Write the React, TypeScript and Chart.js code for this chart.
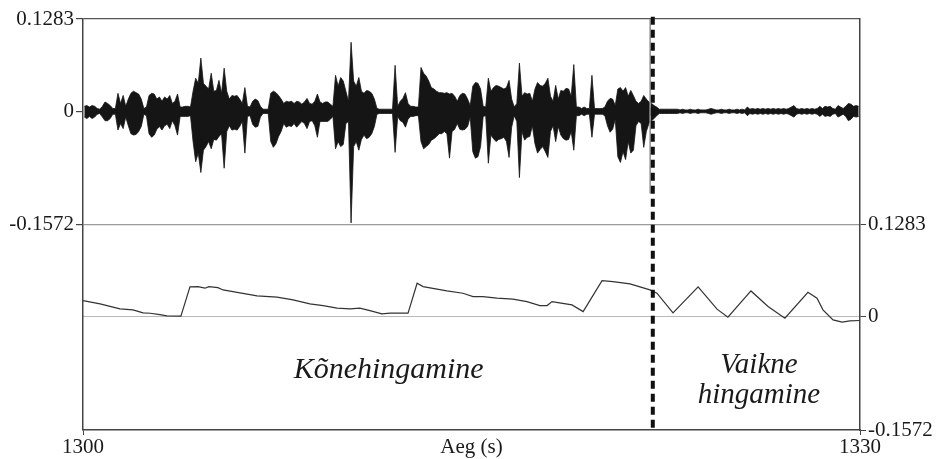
import React, { useEffect, useRef } from "react";
import { Chart, registerables } from "chart.js";

Chart.register(...registerables);

// ---- axes ----
const X_MIN = 1300;
const X_MAX = 1330;
const X_TICKS = [1300, 1330];
const X_TITLE = "Aeg (s)";
const WAVE_TICKS = [0.1283, 0, -0.1572]; // upper panel (left axis)
const BREATH_TICKS = [0.1283, 0, -0.1572]; // lower panel (right axis)

// ---- speech waveform: envelope per 0.1 s bin, starting at 1300 s ----
const WAVE_START = 1300;
const WAVE_STEP = 0.1;
const WAVE_MAX = [
  0.007, 0.008, 0.006, 0.008, 0.007, 0.004, 0.003, 0.007, 0.013, 0.011,
  0.008, 0.004, 0.004, 0.025, 0.011, 0.022, 0.007, 0.017, 0.025, 0.028,
  0.026, 0.024, 0.017, 0.004, 0.006, 0.022, 0.025, 0.024, 0.017, 0.020,
  0.014, 0.020, 0.017, 0.022, 0.011, 0.014, 0.024, 0.006, 0.006, 0.007,
  0.007, 0.006, 0.028, 0.046, 0.039, 0.074, 0.039, 0.035, 0.031, 0.053,
  0.028, 0.029, 0.043, 0.025, 0.060, 0.028, 0.017, 0.022, 0.021, 0.022,
  0.017, 0.011, 0.033, 0.007, 0.006, 0.014, 0.017, 0.015, 0.007, 0.003,
  0.003, 0.003, 0.025, 0.028, 0.026, 0.022, 0.017, 0.011, 0.014, 0.013,
  0.014, 0.011, 0.014, 0.013, 0.010, 0.013, 0.018, 0.011, 0.010, 0.014,
  0.024, 0.013, 0.011, 0.013, 0.013, 0.010, 0.007, 0.050, 0.035, 0.047,
  0.042, 0.028, 0.014, 0.096, 0.042, 0.035, 0.047, 0.028, 0.025, 0.029,
  0.028, 0.025, 0.017, 0.004, 0.003, 0.003, 0.003, 0.003, 0.003, 0.003,
  0.064, 0.007, 0.014, 0.018, 0.026, 0.011, 0.007, 0.007, 0.006, 0.006,
  0.061, 0.053, 0.049, 0.042, 0.033, 0.031, 0.028, 0.026, 0.026, 0.025,
  0.026, 0.024, 0.025, 0.021, 0.014, 0.022, 0.025, 0.024, 0.017, 0.008,
  0.035, 0.040, 0.039, 0.031, 0.007, 0.006, 0.046, 0.028, 0.033, 0.036,
  0.035, 0.033, 0.031, 0.033, 0.043, 0.017, 0.006, 0.011, 0.067, 0.021,
  0.026, 0.024, 0.025, 0.014, 0.031, 0.040, 0.036, 0.035, 0.039, 0.046,
  0.021, 0.014, 0.036, 0.017, 0.029, 0.028, 0.032, 0.031, 0.021, 0.065,
  0.006, 0.006, 0.004, 0.006, 0.004, 0.004, 0.050, 0.004, 0.004, 0.004,
  0.004, 0.006, 0.014, 0.018, 0.017, 0.008, 0.031, 0.033, 0.028, 0.033,
  0.021, 0.029, 0.022, 0.014, 0.011, 0.014, 0.022, 0.017, 0.013, 0.011,
  0.008, 0.006, 0.003, 0.003, 0.003, 0.003, 0.003, 0.003, 0.003, 0.003,
  0.002, 0.003, 0.002, 0.002, 0.003, 0.002, 0.002, 0.003, 0.002, 0.002,
  0.002, 0.003, 0.004, 0.003, 0.002, 0.002, 0.003, 0.002, 0.002, 0.003,
  0.002, 0.002, 0.003, 0.002, 0.003, 0.002, 0.006, 0.003, 0.004, 0.003,
  0.004, 0.003, 0.004, 0.003, 0.004, 0.003, 0.004, 0.003, 0.004, 0.003,
  0.004, 0.003, 0.004, 0.006, 0.008, 0.004, 0.003, 0.004, 0.003, 0.004,
  0.003, 0.004, 0.003, 0.004, 0.007, 0.004, 0.007, 0.006, 0.007, 0.004,
  0.003, 0.008, 0.006, 0.004, 0.007, 0.011, 0.010, 0.007, 0.008, 0.007,
];
const WAVE_MIN = [
  -0.008, -0.010, -0.007, -0.010, -0.008, -0.004, -0.003, -0.008, -0.013, -0.013,
  -0.010, -0.004, -0.004, -0.026, -0.017, -0.024, -0.008, -0.020, -0.031, -0.033,
  -0.032, -0.028, -0.021, -0.004, -0.006, -0.031, -0.036, -0.033, -0.025, -0.021,
  -0.026, -0.020, -0.018, -0.024, -0.013, -0.020, -0.033, -0.007, -0.007, -0.007,
  -0.007, -0.006, -0.042, -0.070, -0.058, -0.085, -0.054, -0.049, -0.042, -0.052,
  -0.039, -0.040, -0.035, -0.031, -0.079, -0.028, -0.020, -0.026, -0.025, -0.026,
  -0.021, -0.014, -0.058, -0.007, -0.006, -0.018, -0.022, -0.021, -0.008, -0.003,
  -0.003, -0.003, -0.042, -0.050, -0.045, -0.035, -0.028, -0.017, -0.022, -0.020,
  -0.021, -0.017, -0.022, -0.018, -0.014, -0.017, -0.024, -0.014, -0.013, -0.020,
  -0.036, -0.014, -0.014, -0.014, -0.014, -0.011, -0.007, -0.052, -0.042, -0.049,
  -0.046, -0.017, -0.014, -0.155, -0.049, -0.042, -0.054, -0.039, -0.033, -0.038,
  -0.036, -0.031, -0.021, -0.004, -0.003, -0.003, -0.003, -0.003, -0.003, -0.003,
  -0.057, -0.007, -0.013, -0.015, -0.022, -0.011, -0.007, -0.007, -0.006, -0.006,
  -0.042, -0.052, -0.049, -0.046, -0.040, -0.038, -0.035, -0.031, -0.031, -0.028,
  -0.031, -0.065, -0.028, -0.025, -0.017, -0.025, -0.026, -0.025, -0.021, -0.008,
  -0.056, -0.065, -0.063, -0.049, -0.007, -0.006, -0.072, -0.033, -0.038, -0.042,
  -0.039, -0.038, -0.036, -0.042, -0.064, -0.022, -0.006, -0.014, -0.092, -0.028,
  -0.040, -0.036, -0.035, -0.020, -0.045, -0.058, -0.053, -0.049, -0.056, -0.064,
  -0.028, -0.020, -0.042, -0.021, -0.033, -0.038, -0.040, -0.039, -0.028, -0.054,
  -0.006, -0.006, -0.004, -0.006, -0.004, -0.004, -0.036, -0.004, -0.004, -0.004,
  -0.004, -0.006, -0.020, -0.029, -0.025, -0.011, -0.063, -0.071, -0.056, -0.067,
  -0.042, -0.058, -0.054, -0.020, -0.014, -0.017, -0.050, -0.028, -0.017, -0.013,
  -0.010, -0.006, -0.003, -0.003, -0.003, -0.003, -0.003, -0.003, -0.003, -0.003,
  -0.002, -0.003, -0.002, -0.002, -0.003, -0.002, -0.002, -0.003, -0.002, -0.002,
  -0.002, -0.003, -0.004, -0.003, -0.002, -0.002, -0.003, -0.002, -0.002, -0.003,
  -0.002, -0.002, -0.003, -0.002, -0.003, -0.002, -0.006, -0.003, -0.004, -0.003,
  -0.004, -0.003, -0.004, -0.003, -0.004, -0.003, -0.004, -0.003, -0.004, -0.003,
  -0.004, -0.003, -0.004, -0.006, -0.008, -0.004, -0.003, -0.004, -0.003, -0.004,
  -0.003, -0.004, -0.003, -0.004, -0.007, -0.004, -0.007, -0.006, -0.007, -0.004,
  -0.003, -0.008, -0.006, -0.004, -0.007, -0.013, -0.011, -0.007, -0.008, -0.007,
];

// ---- breathing signal (lower panel) ----
const BREATH_T = [
  1300.0, 1300.66, 1301.43, 1301.93, 1302.32, 1302.59, 1302.97, 1303.24, 1303.78,
  1304.13, 1304.44, 1304.71, 1304.86, 1305.21, 1305.41, 1306.06, 1306.72, 1307.49,
  1308.11, 1308.76, 1309.27, 1309.81, 1310.31, 1310.69, 1311.08, 1311.54, 1311.85,
  1312.55, 1312.9, 1313.13, 1313.67, 1314.05, 1314.67, 1315.06, 1315.44, 1315.98,
  1316.6, 1317.14, 1317.64, 1317.92, 1318.11, 1318.34, 1318.88, 1319.31, 1320.04,
  1320.46, 1321.12, 1321.89, 1322.16, 1322.78, 1323.75, 1324.48, 1324.9, 1325.79,
  1326.45, 1327.1, 1327.99, 1328.34, 1328.57, 1328.96, 1329.31, 1329.61, 1330.0,
];
const BREATH_V = [
  0.0226, 0.018, 0.011, 0.0097, 0.0055, 0.005, 0.0032, 0.0014, 0.001,
  0.0416, 0.042, 0.0398, 0.042, 0.0406, 0.0374, 0.0333, 0.0291, 0.0273,
  0.0236, 0.018, 0.0157, 0.0121, 0.0111, 0.0121, 0.0087, 0.0042, 0.0051,
  0.0051, 0.0467, 0.042, 0.0384, 0.036, 0.0328, 0.0281, 0.0281, 0.0259,
  0.0245, 0.0212, 0.0157, 0.0157, 0.0212, 0.0198, 0.0166, 0.0073, 0.0503,
  0.0489, 0.0457, 0.0374, 0.0328, 0.0055, 0.0416, 0.0107, -0.0004, 0.036,
  0.0143, -0.0018, 0.0342, 0.0259, 0.0097, -0.0042, -0.0073, -0.0055, -0.0051,
];

// ---- annotations ----
const BOUNDARY_T = 1322.0; // dashed boundary
const MARKER_T = 1321.9; // thin grey marker in the waveform
const MARKER_TOP = 0.1283;
const MARKER_BOTTOM = -0.114;
const TEXT_LABELS = ["Kõnehingamine", "Vaikne", "hingamine"];
const TEXT_T = [1311.8, 1326.1, 1326.1];
const TEXT_V = [-0.0845, -0.0776, -0.119];
const TEXT_SIZE = [30, 29, 29];

const FONT = "'Liberation Serif', 'Times New Roman', serif";

export default function App() {
  const ref = useRef<HTMLCanvasElement | null>(null);

  useEffect(() => {
    const canvas = ref.current;
    if (!canvas) return;

    const waveSpan = WAVE_TICKS[0] - WAVE_TICKS[2];
    const y1Min = WAVE_TICKS[2] - waveSpan;
    const y1Max = WAVE_TICKS[0];
    const breathSpan = BREATH_TICKS[0] - BREATH_TICKS[2];
    const y2Min = BREATH_TICKS[2];
    const y2Max = BREATH_TICKS[0] + breathSpan;

    const binT = (i: number) => WAVE_START + WAVE_STEP * (i + 0.5);
    const waveUpper = WAVE_MAX.map((v, i) => ({ x: binT(i), y: v }));
    const waveLower = WAVE_MIN.map((v, i) => ({ x: binT(i), y: v }));
    const breathData = BREATH_T.map((t, i) => ({ x: t, y: BREATH_V[i] }));

    const textPlugin = {
      id: "panelText",
      afterDatasetsDraw(chart: any) {
        const { ctx } = chart;
        const xs = chart.scales.x;
        const ys = chart.scales.y2;
        ctx.save();
        ctx.fillStyle = "#1a1a1a";
        ctx.textAlign = "center";
        ctx.textBaseline = "alphabetic";
        TEXT_LABELS.forEach((txt, i) => {
          ctx.font = `italic ${TEXT_SIZE[i]}px ${FONT}`;
          ctx.fillText(txt, xs.getPixelForValue(TEXT_T[i]), ys.getPixelForValue(TEXT_V[i]));
        });
        ctx.restore();
      },
    };

    const chart = new Chart(canvas, {
      type: "line",
      data: {
        datasets: [
          {
            data: [
              { x: BOUNDARY_T, y: y1Max + 0.003 },
              { x: BOUNDARY_T, y: y1Min },
            ],
            xAxisID: "x",
            yAxisID: "y1",
            borderColor: "#111",
            borderWidth: 4,
            borderDash: [8, 5],
            pointRadius: 0,
            clip: false,
            fill: false,
            order: 0,
          },
          {
            data: [
              { x: MARKER_T, y: MARKER_TOP },
              { x: MARKER_T, y: MARKER_BOTTOM },
            ],
            xAxisID: "x",
            yAxisID: "y1",
            borderColor: "#9a9a9a",
            borderWidth: 1,
            pointRadius: 0,
            fill: false,
            order: 1,
          },
          {
            data: breathData,
            xAxisID: "x",
            yAxisID: "y2",
            borderColor: "#333",
            borderWidth: 1.2,
            pointRadius: 0,
            tension: 0,
            fill: false,
            order: 2,
          },
          {
            data: waveUpper,
            xAxisID: "x",
            yAxisID: "y1",
            borderColor: "#151515",
            backgroundColor: "#151515",
            borderWidth: 0.8,
            pointRadius: 0,
            tension: 0,
            fill: "+1",
            order: 3,
          },
          {
            data: waveLower,
            xAxisID: "x",
            yAxisID: "y1",
            borderColor: "#151515",
            borderWidth: 0.8,
            pointRadius: 0,
            tension: 0,
            fill: false,
            order: 4,
          },
        ],
      },
      options: {
        responsive: false,
        devicePixelRatio: 1,
        animation: false,
        layout: { padding: { top: 19, left: 0, right: 0, bottom: 0 } },
        plugins: {
          legend: { display: false },
          tooltip: { enabled: false },
        },
        scales: {
          x: {
            type: "linear",
            min: X_MIN,
            max: X_MAX,
            offset: false,
            afterBuildTicks: (s: any) => {
              s.ticks = X_TICKS.map((v) => ({ value: v }));
            },
            afterFit: (s: any) => {
              s.height = 29;
            },
            ticks: {
              color: "#1a1a1a",
              font: { family: FONT, size: 21 },
              padding: 0,
              maxRotation: 0,
              autoSkip: false,
              callback: (v: any) => String(v),
            },
            grid: {
              offset: false,
              drawOnChartArea: false,
              tickLength: 5,
              tickColor: "#444",
              color: "#444",
            },
            border: { display: true, color: "#444", width: 1.5 },
            title: {
              display: true,
              text: X_TITLE,
              color: "#1a1a1a",
              font: { family: FONT, size: 21, lineHeight: 1.1 },
              padding: { top: 0, bottom: 0 },
            },
          },
          y1: {
            type: "linear",
            position: "left",
            min: y1Min,
            max: y1Max,
            afterBuildTicks: (s: any) => {
              s.ticks = WAVE_TICKS.map((v) => ({ value: v }));
            },
            afterFit: (s: any) => {
              s.width = 83;
            },
            ticks: {
              color: "#1a1a1a",
              font: { family: FONT, size: 21 },
              padding: 2,
              autoSkip: false,
              callback: (v: any) => String(v),
            },
            grid: {
              drawOnChartArea: true,
              tickLength: 7,
              tickColor: "#444",
              lineWidth: 1.2,
              color: (c: any) => {
                const v = c.tick ? c.tick.value : null;
                if (v === WAVE_TICKS[0]) return "#555";
                if (v === WAVE_TICKS[2]) return "#9a9a9a";
                return "rgba(0,0,0,0)";
              },
            },
            border: { display: true, color: "#444", width: 1.5 },
          },
          y2: {
            type: "linear",
            position: "right",
            min: y2Min,
            max: y2Max,
            afterBuildTicks: (s: any) => {
              s.ticks = BREATH_TICKS.map((v) => ({ value: v }));
            },
            afterFit: (s: any) => {
              s.width = 76;
            },
            ticks: {
              color: "#1a1a1a",
              font: { family: FONT, size: 21 },
              padding: 2,
              autoSkip: false,
              callback: (v: any) => String(v),
            },
            grid: {
              drawOnChartArea: true,
              tickLength: 6,
              tickColor: "#444",
              color: (c: any) => {
                const v = c.tick ? c.tick.value : null;
                if (v === 0) return "#b8b8b8";
                return "rgba(0,0,0,0)";
              },
            },
            border: { display: true, color: "#444", width: 1.5 },
          },
        },
      } as any,
      plugins: [textPlugin],
    });

    return () => {
      chart.destroy();
    };
  }, []);

  return (
    <div style={{ position: "absolute", left: 0, top: 0, width: 936, height: 459, background: "#fff" }}>
      <canvas ref={ref} width={936} height={459} style={{ display: "block" }} />
    </div>
  );
}
